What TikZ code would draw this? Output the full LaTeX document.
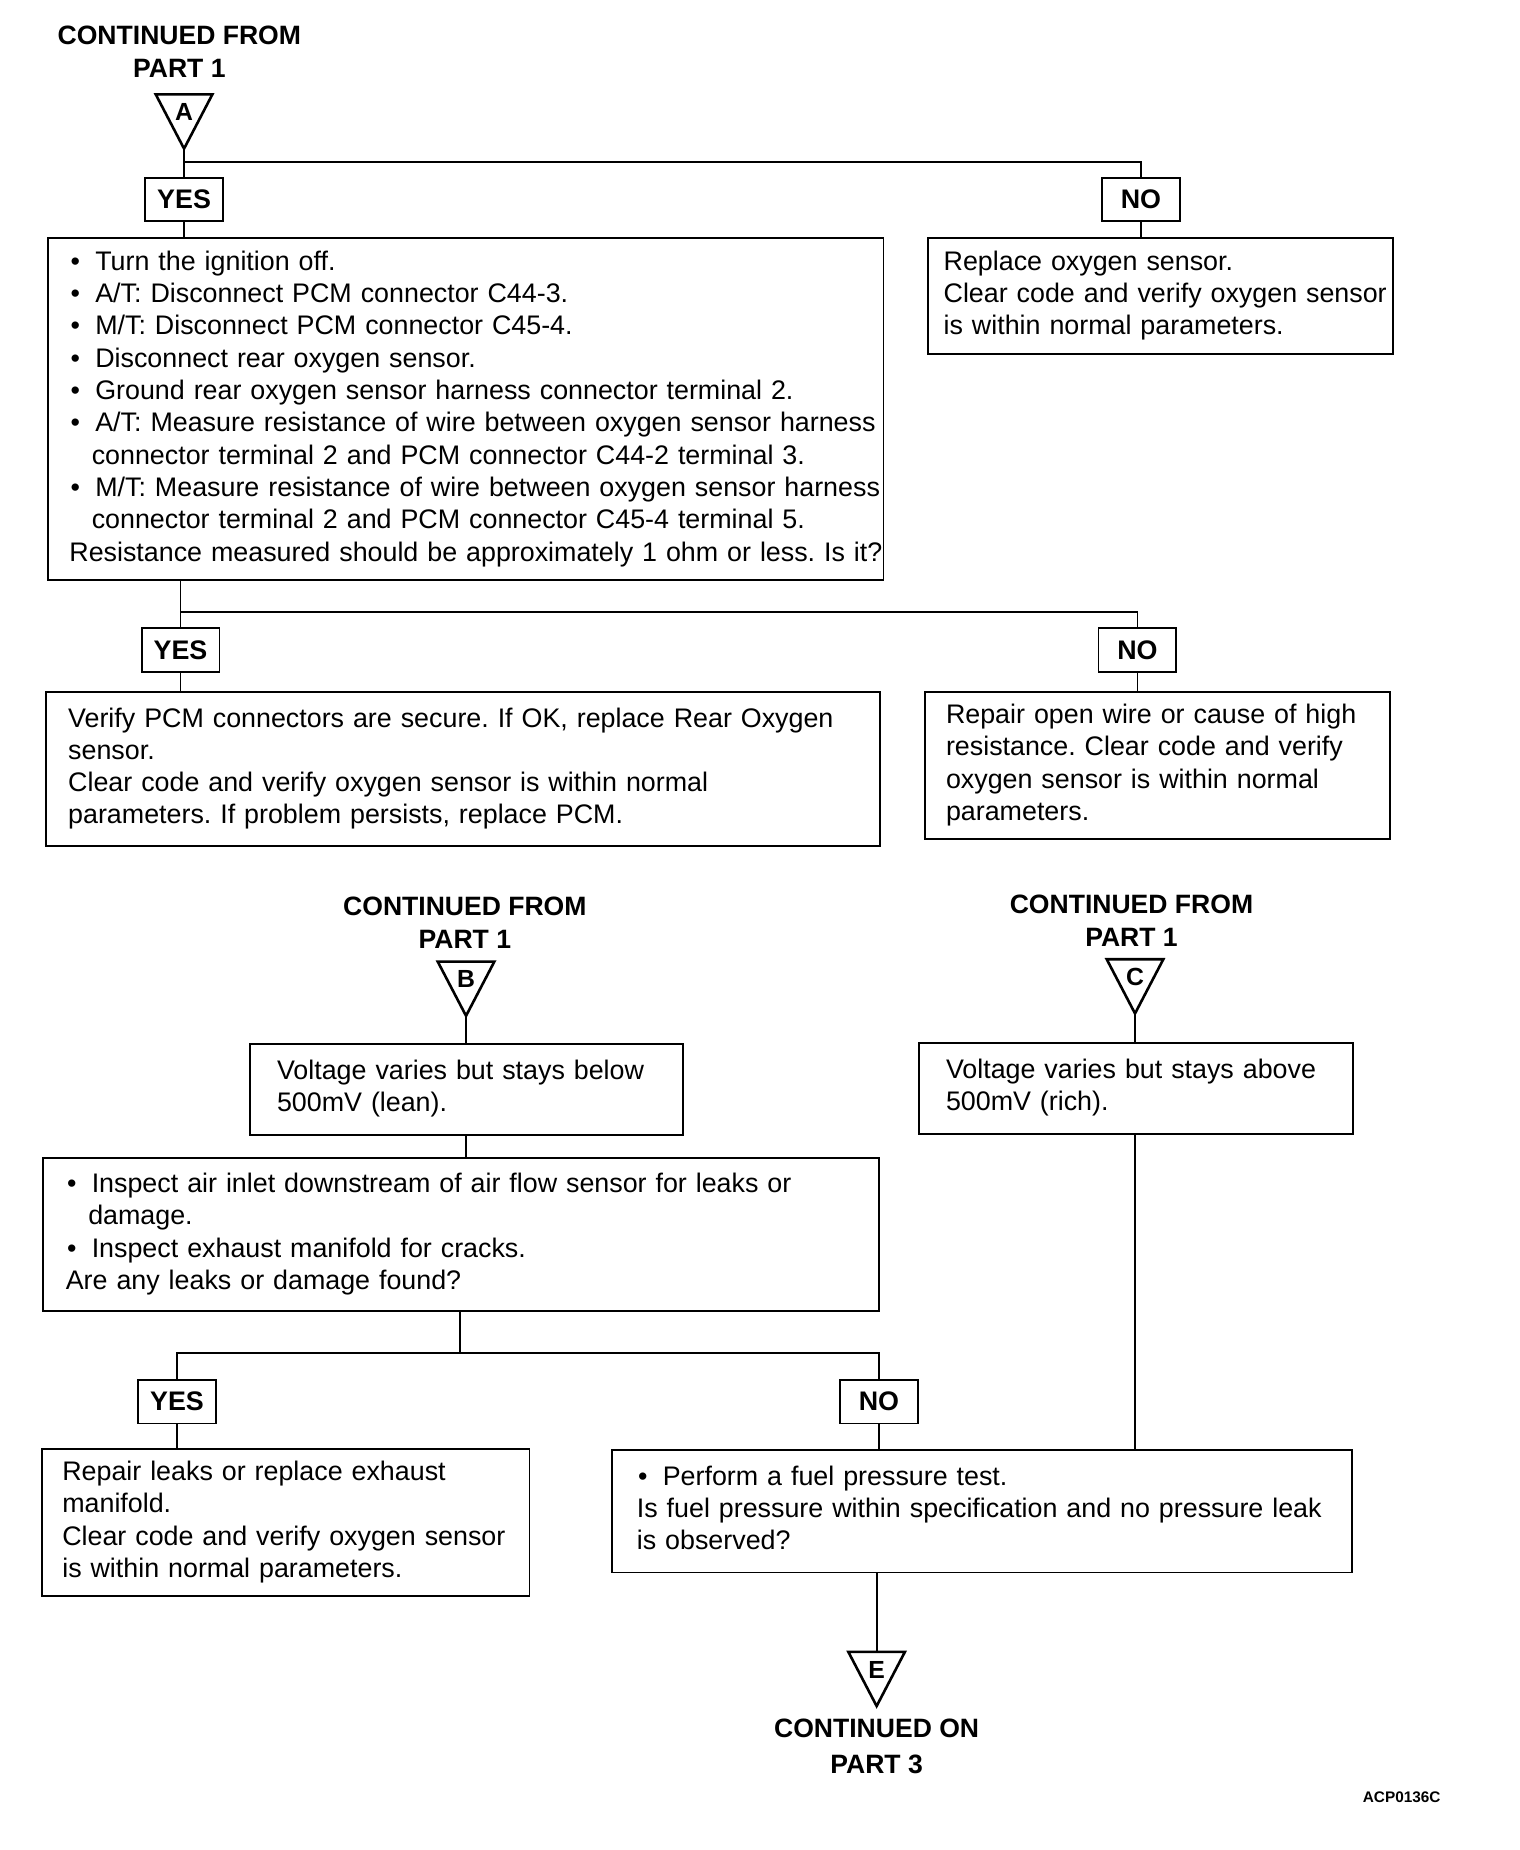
\documentclass[tikz,border=0pt]{standalone}
\usepackage{fontspec}
\setmainfont{Liberation Sans}
\usepackage{tikz}
\usetikzlibrary{calc}
\frenchspacing
\newcommand{\fs}{\fontsize{22.75}{27.4}\selectfont}
\newcommand{\bul}{\hspace*{1pt}\makebox[21pt][l]{\textbullet}}
\newcommand{\ind}{\hspace*{19pt}}
\newcommand{\boxlines}[1]{\begin{tabular}{@{}l@{}}#1\end{tabular}}

\begin{document}
\begin{tikzpicture}[x=1pt,y=-1pt,
  box/.style={draw,line width=1.6pt,anchor=north west,align=left,inner ysep=0pt,font=\fs},
  lbl/.style={draw,line width=1.6pt,minimum width=66pt,minimum height=37pt,inner sep=0pt,font=\fs\bfseries},
  head/.style={align=center,font=\fontsize{22.5}{28}\selectfont\bfseries},
  letter/.style={font=\fontsize{21}{21}\selectfont\bfseries,inner sep=0pt},
  tri/.style={line width=2.2pt,line join=miter},
  conn/.style={line width=1.5pt}
]
\path[fill=white,use as bounding box] (0,0) rectangle (1288,1568);

\node[head] (hA) at (152,44) {CONTINUED FROM\\PART 1};
\node[head] (hB) at (394,782) {CONTINUED FROM\\PART 1};
\node[head] (hC) at (959,780) {CONTINUED FROM\\PART 1};
\node[head,font=\fontsize{22.5}{31}\selectfont\bfseries] (hE) at (743,1480) {CONTINUED ON\\PART 3};
\node[font=\fontsize{13}{13}\selectfont\bfseries] (code) at (1188,1523) {ACP0136C};

\foreach \n/\x/\y in {A/156/80,B/395/815,C/962/813,E/743/1400}{
  \coordinate (top\n) at (\x,\y);
  \coordinate (tip\n) at (\x,\y+46);
  \draw[tri] (\x-24,\y) -- (\x+24,\y) -- (tip\n) -- cycle;
  \node[letter] (m\n) at (\x,\y+15) {\n};
}

\node[lbl] (yes1) at (156,169) {YES};
\node[lbl] (no1) at (967,169) {NO};
\node[box,minimum width=708pt,minimum height=290pt,text width=672pt,inner xsep=18pt] (box1) at (40,201) {\boxlines{%
\bul Turn the ignition off.\\
\bul A/T: Disconnect PCM connector C44-3.\\
\bul M/T: Disconnect PCM connector C45-4.\\
\bul Disconnect rear oxygen sensor.\\
\bul Ground rear oxygen sensor harness connector terminal 2.\\
\bul A/T: Measure resistance of wire between oxygen sensor harness\\
\ind connector terminal 2 and PCM connector C44-2 terminal 3.\\
\bul M/T: Measure resistance of wire between oxygen sensor harness\\
\ind connector terminal 2 and PCM connector C45-4 terminal 5.\\
Resistance measured should be approximately 1 ohm or less. Is it?}};
\node[box,minimum width=394pt,minimum height=98pt,text width=368pt,inner xsep=13pt] (rbox1) at (786,201) {\boxlines{%
Replace oxygen sensor.\\
Clear code and verify oxygen sensor\\
is within normal parameters.}};

\node[lbl] (yes2) at (153,551) {YES};
\node[lbl] (no2) at (964,551) {NO};
\node[box,minimum width=707pt,minimum height=130pt,text width=669pt,inner xsep=19pt] (box3) at (38,586) {\boxlines{%
Verify PCM connectors are secure. If OK, replace Rear Oxygen\\
sensor.\\
Clear code and verify oxygen sensor is within normal\\
parameters. If problem persists, replace PCM.}};
\node[box,minimum width=394pt,minimum height=124pt,text width=358pt,inner xsep=18pt] (box4) at (783,586) {\boxlines{%
Repair open wire or cause of high\\
resistance. Clear code and verify\\
oxygen sensor is within normal\\
parameters.}};

\node[box,minimum width=367pt,minimum height=77pt,text width=321pt,inner xsep=23pt] (box5) at (211,884) {\boxlines{%
Voltage varies but stays below\\
500mV (lean).}};
\node[box,minimum width=368pt,minimum height=77pt,text width=322pt,inner xsep=23pt] (box6) at (778,883) {\boxlines{%
Voltage varies but stays above\\
500mV (rich).}};
\node[box,minimum width=708pt,minimum height=129pt,text width=670pt,inner xsep=19pt] (box7) at (36,981) {\boxlines{%
\bul Inspect air inlet downstream of air flow sensor for leaks or\\
\ind damage.\\
\bul Inspect exhaust manifold for cracks.\\
Are any leaks or damage found?}};

\node[lbl] (yes3) at (150,1188) {YES};
\node[lbl] (no3) at (745,1188) {NO};
\node[box,minimum width=413pt,minimum height=125pt,text width=379pt,inner xsep=17pt] (box8) at (35,1227) {\boxlines{%
Repair leaks or replace exhaust\\
manifold.\\
Clear code and verify oxygen sensor\\
is within normal parameters.}};
\node[box,minimum width=627pt,minimum height=104pt,text width=585pt,inner xsep=21pt] (box9) at (518,1228) {\boxlines{%
\bul Perform a fuel pressure test.\\
Is fuel pressure within specification and no pressure leak\\
is observed?}};

\coordinate (jA) at (156,137);
\coordinate (jB) at (153,519);
\coordinate (jC) at (390,1147);
\draw[conn] (tipA) -- (yes1);
\draw[conn] (jA) -| (no1);
\foreach \u/\v in {yes1/box1,no1/rbox1,yes2/box3,no2/box4,yes3/box8,no3/box9}{\draw[conn] (\u) -- (\u |- \v.north);}
\draw[conn] (yes2 |- box1.south) -- (yes2);
\draw[conn] (jB) -| (no2);
\draw[conn] (tipB) -- (tipB |- box5.north);
\draw[conn] (tipC) -- (tipC |- box6.north);
\draw[conn] (box5.south -| tipB) -- (tipB |- box7.north);
\draw[conn] (jC |- box7.south) -- (jC);
\draw[conn] (yes3) -- (yes3 |- jC) -- (no3 |- jC) -- (no3);
\draw[conn] (box6.south -| tipC) -- (tipC |- box9.north);
\draw[conn] (topE |- box9.south) -- (topE);
\end{tikzpicture}
\end{document}
